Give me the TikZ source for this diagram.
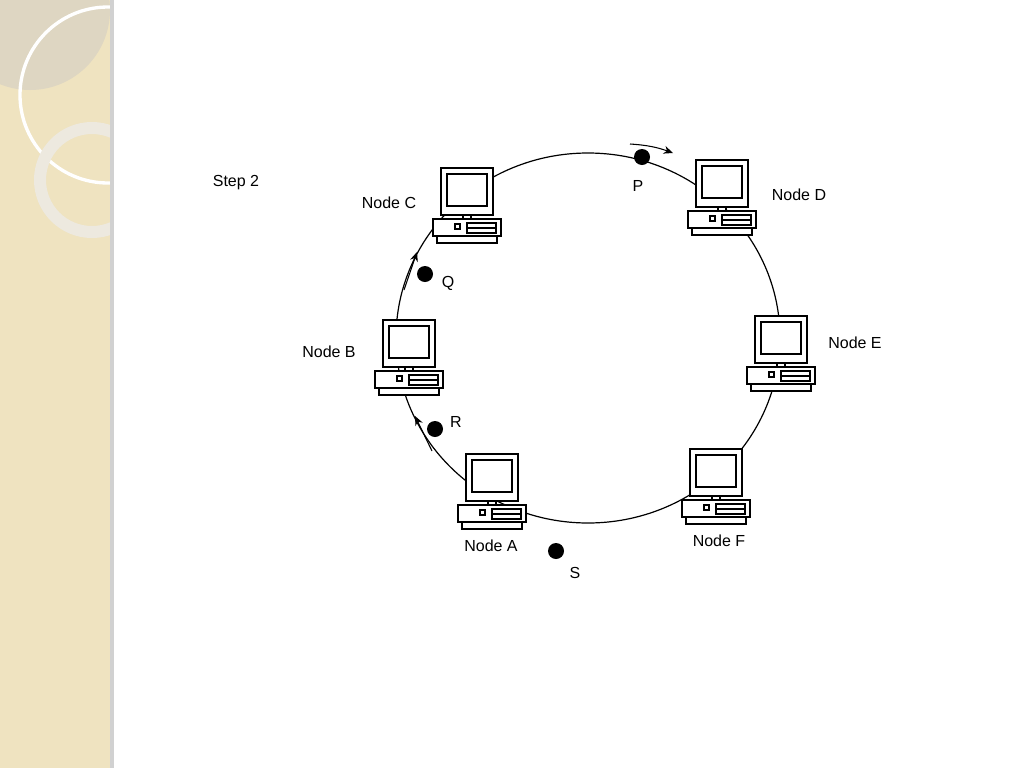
\documentclass[tikz,border=0pt]{standalone}
\usepackage{fontspec}
\setmainfont{Liberation Sans}
\usetikzlibrary{arrows.meta}
\definecolor{beige}{HTML}{EFE3C0}
\definecolor{disk}{HTML}{DED6C2}
\definecolor{ringc}{HTML}{EDE9DF}
\begin{document}
\begin{tikzpicture}[x=0.75pt,y=-0.75pt,
  lbl/.style={font=\fontsize{12}{14}\selectfont},
  dot/.style={circle,fill=black,inner sep=0pt,minimum size=12pt},
  arr/.style={-{Stealth[length=7pt,width=6pt]},line width=0.8pt},
  pc/.pic={
    \draw[line width=1pt,fill=white] (-26,0) rectangle (26,47);
    \draw[line width=1pt] (-20,6) rectangle (20,38);
    \draw[line width=1pt,fill=white] (-4,47) rectangle (4,51);
    \draw[line width=1pt,fill=white] (-34,51) rectangle (34,68);
    \draw[line width=0.8pt] (-12,56) rectangle (-7,61);
    \draw[line width=0.8pt] (0,55) rectangle (29,65) (0,60)--(29,60);
    \draw[line width=1pt,fill=white] (-30,68) rectangle (30,75);
  }]
\useasboundingbox (0,0) rectangle (1024,768);
\fill[white] (0,0) rectangle (1024,768);
% decorative strip
\begin{scope}
\clip (0,0) rectangle (113,768);
\fill[beige] (0,0) rectangle (113,768);
\fill[disk] (30,10) circle (80);
\draw[white,line width=2.5pt] (108,95) circle (88);
\draw[ringc,line width=9pt] (92,180) circle (52);
\end{scope}
\fill[black!18] (110,0) rectangle (114,768);
% ring
\draw[line width=0.9pt] (588,338) ellipse (192 and 185);
\pic at (467,168) {pc};
\pic at (722,160) {pc};
\pic at (781,316) {pc};
\pic at (409,320) {pc};
\pic at (492,454) {pc};
\pic at (716,449) {pc};
\node[lbl] (step) at (236,183) {Step 2};
\node[lbl] (nc) at (389,203) {Node C};
\node[lbl] (nd) at (799,195) {Node D};
\node[lbl] (ne) at (855,343) {Node E};
\node[lbl] (nb) at (329,352) {Node B};
\node[lbl] (na) at (491,546) {Node A};
\node[lbl] (nf) at (719,541) {Node F};
\node[dot] (p) at (642,157) {};
\node[dot] (q) at (425,274) {};
\node[dot] (r) at (435,429) {};
\node[dot] (s) at (556,551) {};
\node[lbl] (pl) at (638,186) {P};
\node[lbl] (ql) at (448,283) {Q};
\node[lbl] (rl) at (456,422) {R};
\node[lbl] (sl) at (575,573) {S};
\coordinate (pa1) at (630,144); \coordinate (pa2) at (673,153);
\coordinate (qa1) at (404,290); \coordinate (qa2) at (417,252);
\coordinate (ra1) at (432,451); \coordinate (ra2) at (415,416);
\draw[arr] (pa1) to[bend left=8] (pa2);
\draw[arr] (qa1) -- (qa2);
\draw[arr] (ra1) -- (ra2);
\end{tikzpicture}
\end{document}
